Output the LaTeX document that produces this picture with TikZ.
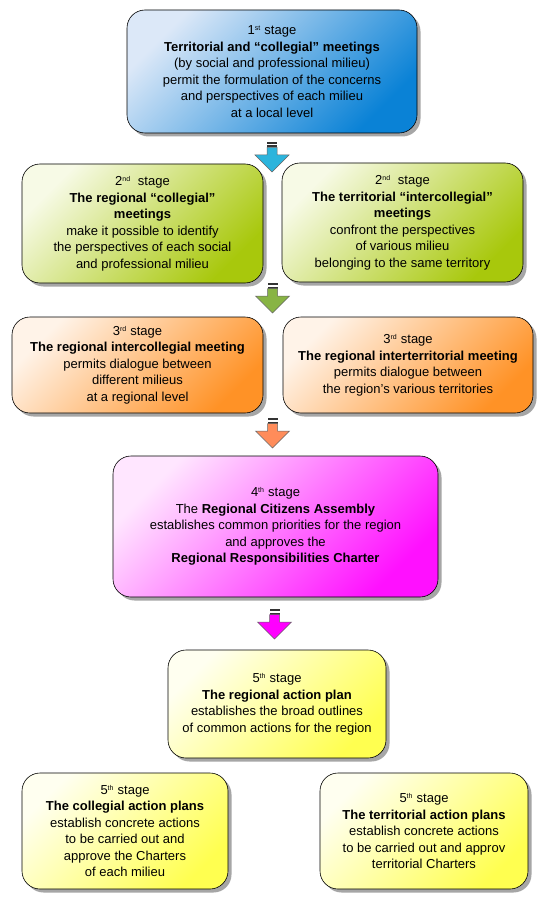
\documentclass[tikz,border=0pt]{standalone}
\usepackage{fontspec}
\setmainfont{Liberation Sans}
\usetikzlibrary{shadows}

\definecolor{blueLt}{HTML}{DCE8F8}
\definecolor{blueDk}{HTML}{0A82D6}
\definecolor{greenLt}{HTML}{F7FAE6}
\definecolor{greenDk}{HTML}{A8C80C}
\definecolor{orangeLt}{HTML}{FFF3E8}
\definecolor{orangeDk}{HTML}{FF9226}
\definecolor{pinkLt}{HTML}{FFE6FF}
\definecolor{pinkDk}{HTML}{FF10FF}
\definecolor{yellowLt}{HTML}{FFFFF0}
\definecolor{yellowDk}{HTML}{FFFF50}
\definecolor{arrowA}{HTML}{2CB4DC}
\definecolor{arrowB}{HTML}{88B444}
\definecolor{arrowC}{HTML}{FF8C5A}
\definecolor{arrowD}{HTML}{FF00FF}

\tikzstyle{stage}=[draw=black, line width=0.6pt, rounded corners=18pt, align=center, inner sep=0pt,
	font=\fontsize{13}{16.5}\selectfont,
	drop shadow={shadow xshift=3.5pt, shadow yshift=-3.5pt, fill=black!35, opacity=1}]
\tikzstyle{stageBlue}=[stage, top color=blueLt, bottom color=blueDk, shading angle=45]
\tikzstyle{stageGreen}=[stage, top color=greenLt, bottom color=greenDk, shading angle=45]
\tikzstyle{stageOrange}=[stage, top color=orangeLt, bottom color=orangeDk, shading angle=45]
\tikzstyle{stagePink}=[stage, top color=pinkLt, bottom color=pinkDk, shading angle=45]
\tikzstyle{stageYellow}=[stage, top color=yellowLt, bottom color=yellowDk, shading angle=45]

\begin{document}
\begin{tikzpicture}[x=1pt, y=-1pt]
	\fill[white] (0,0) rectangle (546,904);
	\useasboundingbox (0,0) rectangle (546,904);

	% 1st stage
	\node[stageBlue, minimum width=290pt, minimum height=123pt] (s1) at (272,71.5)
		{1\textsuperscript{\scriptsize st} stage\\
		 \textbf{Territorial and “collegial” meetings}\\
		 (by social and professional milieu)\\
		 permit the formulation of the concerns\\
		 and perspectives of each milieu\\
		 at a local level};

	% 2nd stage
	\node[stageGreen, minimum width=241pt, minimum height=119pt] (s2a) at (142.5,223.5)
		{2\textsuperscript{\scriptsize nd}\ \ stage\\
		 \textbf{The regional “collegial”}\\
		 \textbf{meetings}\\
		 make it possible to identify\\
		 the perspectives of each social\\
		 and professional milieu};
	\node[stageGreen, minimum width=241pt, minimum height=119pt] (s2b) at (402.5,222.5)
		{2\textsuperscript{\scriptsize nd}\ \ stage\\
		 \textbf{The territorial “intercollegial”}\\
		 \textbf{meetings}\\
		 confront the perspectives\\
		 of various milieu\\
		 belonging to the same territory};

	% 3rd stage
	\node[stageOrange, minimum width=251pt, minimum height=96pt] (s3a) at (137.5,365)
		{3\textsuperscript{\scriptsize rd} stage\\
		 \textbf{The regional intercollegial meeting}\\
		 permits dialogue between\\
		 different milieus\\
		 at a regional level};
	\node[stageOrange, minimum width=250pt, minimum height=96pt] (s3b) at (408,365)
		{3\textsuperscript{\scriptsize rd} stage\\
		 \textbf{The regional interterritorial meeting}\\
		 permits dialogue between\\
		 the region’s various territories};

	% 4th stage
	\node[stagePink, minimum width=325pt, minimum height=141pt] (s4) at (275.5,526.5)
		{4\textsuperscript{\scriptsize th} stage\\
		 The \textbf{Regional Citizens Assembly}\\
		 establishes common priorities for the region\\
		 and approves the\\
		 \textbf{Regional Responsibilities Charter}};

	% 5th stage
	\node[stageYellow, minimum width=218pt, minimum height=108pt] (s5) at (277,704)
		{5\textsuperscript{\scriptsize th} stage\\
		 \textbf{The regional action plan}\\
		 establishes the broad outlines\\
		 of common actions for the region};
	\node[stageYellow, minimum width=206pt, minimum height=116pt] (s5a) at (125,831)
		{5\textsuperscript{\scriptsize th} stage\\
		 \textbf{The collegial action plans}\\
		 establish concrete actions\\
		 to be carried out and\\
		 approve the Charters\\
		 of each milieu};
	\node[stageYellow, minimum width=208pt, minimum height=116pt] (s5b) at (424,831)
		{5\textsuperscript{\scriptsize th} stage\\
		 \textbf{The territorial action plans}\\
		 establish concrete actions\\
		 to be carried out and approv\\
		 territorial Charters};

	% Block arrows between the stages
	\coordinate (a1) at (272,142);
	\coordinate (a2) at (272.5,283);
	\coordinate (a3) at (272.5,418);
	\coordinate (a4) at (274.5,609);
	\foreach \a/\c in {a1/arrowA, a2/arrowB, a3/arrowC, a4/arrowD}{
		\begin{scope}[shift={(\a)}]
			\fill[black!80] (-5,0) rectangle (5,2);
			\fill[black!80] (-5,3.5) rectangle (5,5.5);
			\filldraw[fill=\c, draw=black!60, line width=0.5pt]
				(-5,5.5) -- (-5,13) -- (-17,13) -- (0,30) -- (17,13) -- (5,13) -- (5,5.5) -- cycle;
		\end{scope}
	}
\end{tikzpicture}
\end{document}
